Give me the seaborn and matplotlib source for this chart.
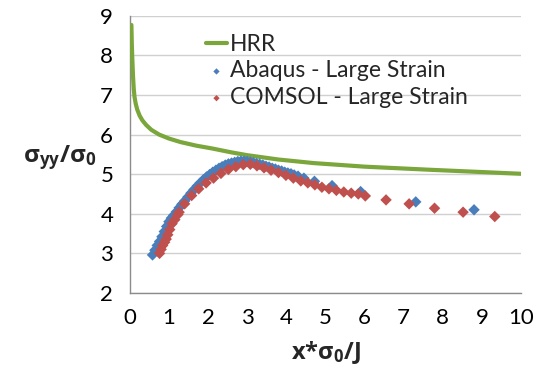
import numpy as np
import pandas as pd
import seaborn as sns
import matplotlib.pyplot as plt

# HRR analytical curve
hrr_x = [0.04, 0.05, 0.06, 0.08, 0.10, 0.12, 0.15, 0.19, 0.25, 0.32, 0.42,
         0.55, 0.75, 1.0, 1.3, 1.7, 2.1, 2.6, 3.0, 3.8, 4.7, 6.0, 7.7, 10.0]
hrr_y = [8.77, 8.3, 8.0, 7.5, 7.15, 6.95, 6.78, 6.63, 6.48, 6.36, 6.24,
         6.12, 6.00, 5.90, 5.81, 5.72, 5.65, 5.55, 5.48, 5.37, 5.28, 5.19,
         5.11, 5.01]

# Abaqus - Large Strain
abaqus_x = [0.58, 0.64, 0.70, 0.76, 0.82, 0.88, 0.94, 1.00, 1.06, 1.12, 1.19,
            1.26, 1.33, 1.40, 1.48, 1.56, 1.64, 1.72, 1.80, 1.88, 1.96, 2.04,
            2.12, 2.20, 2.28, 2.36, 2.44, 2.52, 2.60, 2.68, 2.76, 2.84, 2.92,
            3.00, 3.08, 3.16, 3.24, 3.32, 3.40, 3.48, 3.56, 3.64, 3.72, 3.80,
            3.88, 3.96, 4.04, 4.12, 4.20, 4.30, 4.45, 4.72, 5.17, 5.90, 7.31,
            8.80]
abaqus_y = [2.96, 3.08, 3.20, 3.30, 3.42, 3.55, 3.68, 3.80, 3.89, 3.96, 4.05,
            4.15, 4.24, 4.32, 4.42, 4.52, 4.61, 4.70, 4.78, 4.86, 4.93, 4.99,
            5.05, 5.10, 5.15, 5.19, 5.23, 5.26, 5.28, 5.30, 5.32, 5.33, 5.33,
            5.32, 5.31, 5.29, 5.27, 5.25, 5.23, 5.20, 5.18, 5.15, 5.13, 5.10,
            5.08, 5.05, 5.03, 5.01, 4.98, 4.95, 4.90, 4.82, 4.71, 4.56, 4.30,
            4.10]

# COMSOL - Large Strain
comsol_x = [0.76, 0.80, 0.84, 0.89, 0.93, 0.97, 1.02, 1.08, 1.15, 1.23, 1.26,
            1.40, 1.58, 1.76, 1.95, 2.14, 2.33, 2.52, 2.71, 2.90, 3.08, 3.25,
            3.43, 3.61, 3.80, 3.99, 4.18, 4.37, 4.55, 4.73, 4.91, 5.09, 5.28,
            5.47, 5.66, 5.84, 6.02, 6.55, 7.14, 7.79, 8.52, 9.33]
comsol_y = [3.00, 3.10, 3.20, 3.28, 3.36, 3.47, 3.60, 3.75, 3.85, 3.98, 4.04,
            4.25, 4.46, 4.63, 4.78, 4.90, 5.02, 5.12, 5.19, 5.24, 5.25, 5.21,
            5.16, 5.10, 5.04, 4.97, 4.90, 4.83, 4.78, 4.73, 4.67, 4.63, 4.59,
            4.55, 4.52, 4.50, 4.45, 4.35, 4.25, 4.14, 4.04, 3.93]

x_ticks = list(range(0, 11))
y_ticks = list(range(2, 10))

sns.set_style('white')
plt.rcParams['font.family'] = ['Lato', 'DejaVu Sans']
plt.rcParams['mathtext.fontset'] = 'custom'
plt.rcParams['mathtext.rm'] = 'Open Sans'
plt.rcParams['mathtext.it'] = 'Open Sans:italic'
plt.rcParams['mathtext.bf'] = 'Open Sans:bold'

fig = plt.figure(figsize=(5.41, 3.77), dpi=100)
ax = fig.add_axes([0.240, 0.223, 0.723, 0.735])

df_hrr = pd.DataFrame({'x': hrr_x, 'y': hrr_y})
df_abq = pd.DataFrame({'x': abaqus_x, 'y': abaqus_y})
df_com = pd.DataFrame({'x': comsol_x, 'y': comsol_y})

sns.lineplot(data=df_hrr, x='x', y='y', ax=ax, color='#7aa63c', linewidth=3,
             sort=False, estimator=None, label='HRR', zorder=3)
sns.scatterplot(data=df_abq, x='x', y='y', ax=ax, marker='D', s=34,
                color='#4a7ebb', edgecolor='none', label='Abaqus - Large Strain',
                zorder=4)
sns.scatterplot(data=df_com, x='x', y='y', ax=ax, marker='D', s=34,
                color='#c0504d', edgecolor='none', label='COMSOL - Large Strain',
                zorder=5)

ax.set_xlim(0, 10)
ax.set_ylim(2, 9)
ax.set_xticks(x_ticks)
ax.set_yticks(y_ticks)
ax.yaxis.grid(True, color='#d0d0d0', linewidth=1)
ax.xaxis.grid(False)
for side in ['top', 'right']:
    ax.spines[side].set_visible(False)
for side in ['left', 'bottom']:
    ax.spines[side].set_color('#8c8c8c')
    ax.spines[side].set_linewidth(1)
ax.tick_params(axis='both', labelsize=16, colors='#8c8c8c', length=5,
               direction='out', labelcolor='black', pad=6)
ax.tick_params(axis='y', length=6, colors='#d0d0d0', labelcolor='black')

ax.set_xlabel(r'$\mathbf{x{*}\sigma_0/J}$', fontsize=17, labelpad=8)
ax.set_ylabel(r'$\mathbf{\sigma_{yy}/\sigma_0}$', fontsize=17.5, rotation=0,
              ha='right', va='center')
ax.yaxis.set_label_coords(-0.085, 0.49)

leg = ax.legend(loc='upper left', bbox_to_anchor=(0.16, 0.985), frameon=False,
                fontsize=16.5, handlelength=0.9, handletextpad=0.15,
                labelspacing=0.25, markerscale=0.55, borderaxespad=0.2)

fig.savefig('out.png', dpi=100)
